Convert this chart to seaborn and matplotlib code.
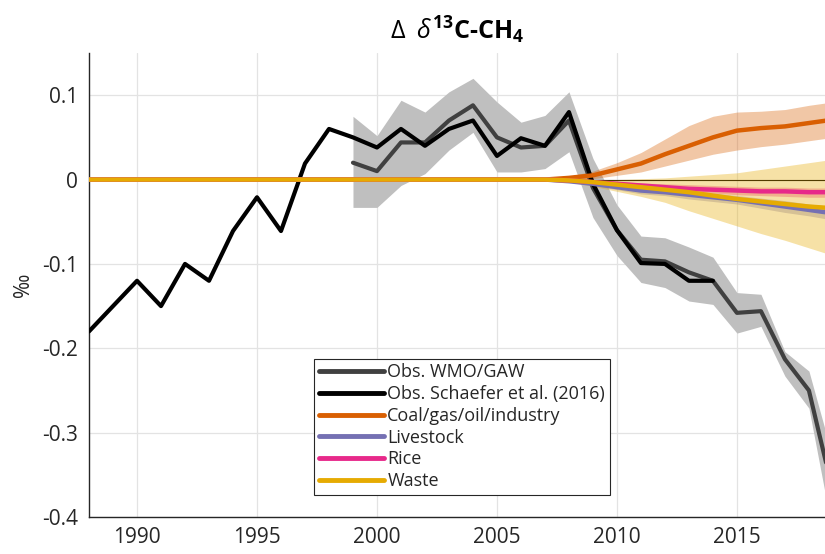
import numpy as np
import pandas as pd
import matplotlib
matplotlib.use("Agg")
import matplotlib.pyplot as plt
import seaborn as sns

# ---- observations ----------------------------------------------------------
sch_years = list(range(1988, 2015))
schaefer = [-0.18, -0.15, -0.12, -0.15, -0.10, -0.12, -0.061, -0.021, -0.061,
            0.019, 0.06, 0.05, 0.038, 0.06, 0.04, 0.06, 0.07, 0.028, 0.049,
            0.04, 0.08, -0.005, -0.06, -0.099, -0.10, -0.12, -0.12]

wmo_years = list(range(1999, 2020))
wmo = [0.02, 0.01, 0.044, 0.044, 0.07, 0.088, 0.05, 0.038, 0.04, 0.07,
       -0.01, -0.06, -0.095, -0.097, -0.11, -0.12, -0.158, -0.156, -0.213,
       -0.25, -0.37]
wmo_hi = [0.075, 0.052, 0.094, 0.08, 0.104, 0.12, 0.092, 0.068, 0.076, 0.104,
          0.025, -0.03, -0.067, -0.069, -0.08, -0.092, -0.134, -0.136, -0.204,
          -0.227, -0.33]
wmo_lo = [-0.033, -0.033, -0.007, 0.007, 0.035, 0.056, 0.009, 0.009, 0.013,
          0.033, -0.045, -0.09, -0.122, -0.128, -0.144, -0.148, -0.182, -0.174,
          -0.233, -0.271, -0.42]

# ---- source-sector scenarios (zero up to 2007) -----------------------------
sec_years = list(range(1988, 2020))
base = [0.0] * 20  # 1988-2007

coal = base + [0.002, 0.005, 0.012, 0.019, 0.03, 0.04, 0.05, 0.058, 0.061,
               0.063, 0.067, 0.071]
coal_hi = base + [0.004, 0.01, 0.02, 0.032, 0.048, 0.064, 0.075, 0.08, 0.081,
                  0.083, 0.088, 0.092]
coal_lo = base + [0.0, 0.001, 0.005, 0.009, 0.016, 0.023, 0.03, 0.035, 0.039,
                  0.042, 0.046, 0.05]

livestock = base + [-0.002, -0.005, -0.009, -0.013, -0.015, -0.018, -0.021,
                    -0.024, -0.028, -0.032, -0.036, -0.04]
livestock_hi = base + [-0.001, -0.003, -0.006, -0.009, -0.011, -0.013, -0.016,
                       -0.019, -0.022, -0.025, -0.029, -0.032]
livestock_lo = base + [-0.003, -0.007, -0.012, -0.017, -0.019, -0.023, -0.026,
                       -0.029, -0.034, -0.039, -0.043, -0.048]

rice = base + [-0.001, -0.003, -0.005, -0.007, -0.009, -0.011, -0.012, -0.013,
               -0.014, -0.014, -0.015, -0.015]
rice_hi = base + [0.0, -0.001, -0.002, -0.004, -0.005, -0.006, -0.007, -0.008,
                  -0.009, -0.009, -0.01, -0.01]
rice_lo = base + [-0.002, -0.005, -0.008, -0.01, -0.013, -0.015, -0.016,
                  -0.018, -0.019, -0.02, -0.021, -0.021]

waste = base + [-0.001, -0.003, -0.006, -0.009, -0.012, -0.015, -0.019,
                -0.023, -0.026, -0.029, -0.032, -0.034]
waste_hi = base + [0.0, 0.0, 0.0, 0.001, 0.002, 0.004, 0.006, 0.008, 0.012,
                   0.016, 0.02, 0.024]
waste_lo = base + [-0.003, -0.008, -0.014, -0.02, -0.027, -0.037, -0.046,
                   -0.055, -0.064, -0.072, -0.081, -0.09]

labels = ["Obs. WMO/GAW", "Obs. Schaefer et al. (2016)",
          "Coal/gas/oil/industry", "Livestock", "Rice", "Waste"]
colors = ["#404040", "#000000", "#D95F02", "#7570B3", "#E7298A", "#E6AB02"]

x_ticks = [1990, 1995, 2000, 2005, 2010, 2015]
y_ticks = [-0.4, -0.3, -0.2, -0.1, 0, 0.1]
y_ticklabels = ["-0.4", "-0.3", "-0.2", "-0.1", "0", "0.1"]

# ---- styling ----------------------------------------------------------------
sns.set_style("white")
plt.rcParams["font.family"] = ["Open Sans", "DejaVu Sans"]
plt.rcParams["mathtext.fontset"] = "custom"
plt.rcParams["mathtext.rm"] = "Open Sans"
plt.rcParams["mathtext.it"] = "Open Sans:italic"
plt.rcParams["mathtext.bf"] = "Open Sans:bold"

fig = plt.figure(figsize=(8.25, 5.54), dpi=100)
ax = fig.add_axes([0.1079, 0.0668, 0.8921, 0.8375])

# uncertainty envelopes
ax.fill_between(wmo_years, wmo_lo, wmo_hi, color="#BFBFBF", lw=0, zorder=1)
ax.axhline(0, color="black", lw=0.8, zorder=1.5)
for lo, hi, c in [(coal_lo, coal_hi, colors[2]),
                  (livestock_lo, livestock_hi, colors[3]),
                  (rice_lo, rice_hi, colors[4]),
                  (waste_lo, waste_hi, colors[5])]:
    ax.fill_between(sec_years, lo, hi, color=c, alpha=0.35, lw=0, zorder=2)

obs = pd.concat([
    pd.DataFrame({"year": wmo_years, "value": wmo, "series": labels[0]}),
    pd.DataFrame({"year": sch_years, "value": schaefer, "series": labels[1]}),
])
sectors = pd.concat([
    pd.DataFrame({"year": sec_years, "value": v, "series": lab})
    for v, lab in zip([coal, livestock, rice, waste], labels[2:])
])

palette = dict(zip(labels, colors))
sns.lineplot(data=obs, x="year", y="value", hue="series", palette=palette,
             hue_order=labels[:2], estimator=None, lw=3, ax=ax, zorder=3)
sns.lineplot(data=sectors, x="year", y="value", hue="series", palette=palette,
             hue_order=labels[2:], estimator=None, lw=3.2, ax=ax, zorder=4)

ax.set_xlim(1988, 2018.67)
ax.set_ylim(-0.4, 0.15)
ax.set_xticks(x_ticks)
ax.set_yticks(y_ticks)
ax.set_yticklabels(y_ticklabels)
ax.grid(True, color="#E3E3E3", lw=0.9)
ax.set_axisbelow(True)
for s in ["top", "right"]:
    ax.spines[s].set_visible(False)
for s in ["left", "bottom"]:
    ax.spines[s].set_color("#262626")
    ax.spines[s].set_linewidth(1.0)
ax.tick_params(direction="in", length=5, width=0.8, colors="#262626",
               labelsize=15, labelcolor="#262626")
ax.tick_params(axis="x", pad=7)
ax.tick_params(axis="y", pad=8)

ax.set_xlabel("")
ax.set_ylabel("‰", fontsize=15, color="#262626", labelpad=6)
ax.set_title(r"$\Delta\;\;\delta^{\mathbf{13}}$C-CH$_{\mathbf{4}}$",
             fontsize=18, fontweight="bold", color="black", pad=10)

h = {l.get_label(): l for l in ax.get_lines() if l.get_label() in labels}
leg = ax.legend([h[l] for l in labels], labels, loc="lower left",
                bbox_to_anchor=(0.306, 0.048), fontsize=13, frameon=True,
                fancybox=False, edgecolor="#262626", framealpha=1,
                handlelength=3.6, handletextpad=0.2, labelspacing=0.21,
                borderpad=0.25, borderaxespad=0)
leg.get_frame().set_linewidth(0.8)
for line in leg.get_lines():
    line.set_linewidth(3.5)

fig.savefig("out.png", dpi=100)
